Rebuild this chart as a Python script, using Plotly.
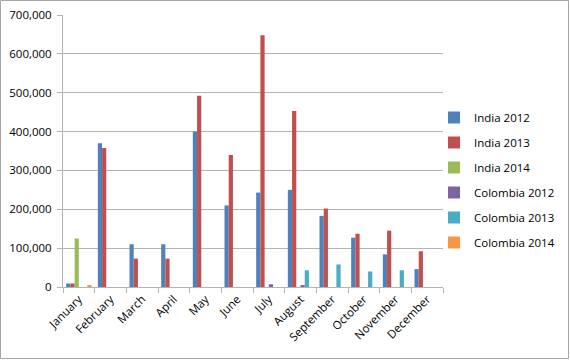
import plotly.graph_objects as go

months = ["January", "February", "March", "April", "May", "June", "July",
          "August", "September", "October", "November", "December"]
india_2012 = [9000, 370000, 110000, 110000, 400000, 210000, 243000, 250000, 183000, 127000, 84000, 46000]
india_2013 = [9000, 358000, 73000, 73000, 492000, 340000, 648000, 453000, 202000, 137000, 145000, 92000]
india_2014 = [125000, 0, 0, 0, 0, 0, 0, 0, 0, 0, 0, 0]
colombia_2012 = [0, 0, 0, 0, 0, 0, 7000, 5000, 0, 0, 0, 0]
colombia_2013 = [0, 0, 0, 0, 0, 0, 0, 43000, 58000, 40000, 43000, 0]
colombia_2014 = [3000, 0, 0, 0, 0, 0, 0, 0, 0, 0, 0, 0]

series = [
    ("India 2012", india_2012, "#4F81BD"),
    ("India 2013", india_2013, "#C0504D"),
    ("India 2014", india_2014, "#9BBB59"),
    ("Colombia 2012", colombia_2012, "#8064A2"),
    ("Colombia 2013", colombia_2013, "#4BACC6"),
    ("Colombia 2014", colombia_2014, "#F79646"),
]

fig = go.Figure()
for i, (name, vals, col) in enumerate(series):
    fig.add_trace(go.Bar(x=months, y=vals, name=name, marker_color=col,
                         marker_line_width=0, legendgroup=str(i)))

W, H = 570, 360
L, R, T, B = 63, 127, 15, 73
pw, ph = W - L - R, H - T - B

fig.update_layout(
    width=W, height=H,
    margin=dict(l=L, r=R, t=T, b=B, autoexpand=False),
    paper_bgcolor="white", plot_bgcolor="white",
    barmode="group", bargap=0.2, bargroupgap=0,
    font=dict(family="Open Sans, Liberation Sans, Arial, sans-serif", size=11, color="#000"),
    showlegend=True,
    legend=dict(x=(434 - L) / pw, y=(287 - 180) / ph, xanchor="left", yanchor="middle",
                font=dict(size=11.5), tracegroupgap=6, itemwidth=30,
                bgcolor="rgba(0,0,0,0)"),
    xaxis=dict(showline=True, linecolor="#b3b3b3", linewidth=1, automargin=False,
               ticks="outside", tickson="boundaries", ticklen=5, tickcolor="#b3b3b3",
               tickangle=-45, showgrid=False, tickfont=dict(size=11.5)),
    yaxis=dict(range=[0, 700000], dtick=100000, tickformat=",", automargin=False,
               showline=True, linecolor="#b3b3b3", linewidth=1,
               showgrid=True, gridcolor="#b3b3b3", gridwidth=1,
               ticks="outside", ticklen=5, tickcolor="#b3b3b3",
               ticklabelstandoff=3, tickfont=dict(size=11.5),
               zeroline=False),
    shapes=[dict(type="rect", xref="paper", yref="paper",
                 x0=(0.5 - L) / pw, x1=(W - 1.5 - L) / pw,
                 y0=(287 - (H - 1.5)) / ph, y1=(287 - 0.5) / ph,
                 line=dict(color="#a6a6a6", width=1))],
)

fig.write_html("out.html")
